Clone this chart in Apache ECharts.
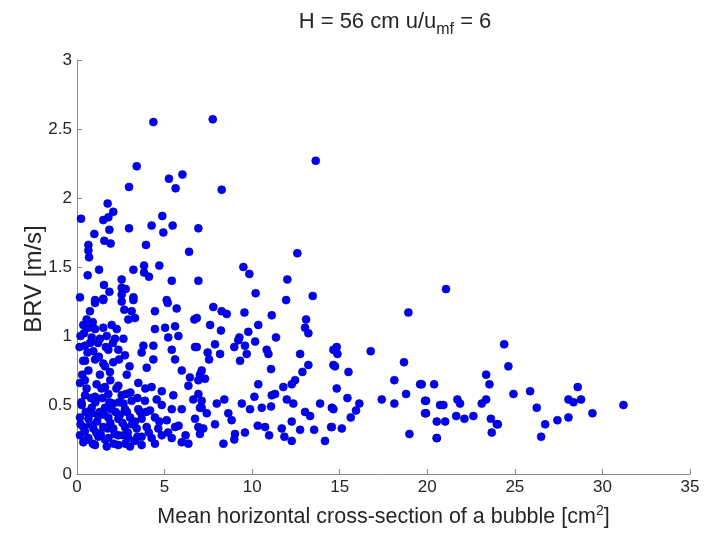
<!DOCTYPE html>
<html>
<head>
<meta charset="utf-8">
<script src="https://cdn.jsdelivr.net/npm/echarts@6/dist/echarts.min.js"></script>
<style>html,body{margin:0;padding:0;background:#fff;}#c{width:704px;height:535px;}</style>
</head>
<body>
<div id="c"></div>
<script>
// Mean horizontal cross-section of a bubble [cm^2]
var crossSection = [
4.36,7.75,3.41,5.25,6.02,5.63,2.97,8.26,13.63,1.75,2.07,1.79,1.50,0.23,1.85,2.97,4.26,4.87,5.46,4.93,
6.93,0.99,0.65,0.65,1.56,1.92,3.94,6.40,0.69,1.26,0.61,3.22,3.83,3.83,4.11,4.70,5.41,6.93,1.54,1.85,
2.55,2.55,2.78,2.55,3.22,0.17,1.03,1.50,5.12,12.58,9.50,9.84,12.01,10.20,11.94,13.46,21.07,18.92,
0.74,1.03,1.50,2.55,2.70,3.12,3.22,2.93,3.31,4.45,5.18,5.69,6.70,0.36,0.65,1.03,1.50,1.98,2.27,0.84,
1.31,2.17,2.65,4.45,5.03,5.60,5.21,5.79,0.46,0.93,1.79,2.36,3.79,4.36,3.69,5.41,6.74,0.46,1.03,1.50,
2.07,2.74,4.36,5.60,3.98,0.65,1.31,1.88,2.84,5.98,6.45,7.02,0.17,1.12,1.60,2.36,3.50,4.26,4.84,5.50,
6.36,0.46,1.03,1.79,2.55,3.12,3.88,4.55,6.64,0.27,0.84,1.60,2.07,2.74,3.50,4.17,4.84,5.41,5.98,7.02,
0.17,0.65,1.22,1.79,2.36,3.03,3.69,4.45,5.12,6.74,0.36,0.93,1.50,2.07,2.74,3.41,3.98,4.64,5.60,7.21,
0.17,0.65,1.22,1.79,2.36,2.93,3.69,4.26,4.84,5.41,5.98,6.36,1.03,1.70,2.36,3.03,3.69,4.45,0.36,
1.30,2.20,1.90,2.60,1.10,2.90,3.30,0.50,0.80,2.40,1.60,2.10,3.30,0.90,2.80,1.40,0.30,0.60,1.20,0.40,
0.90,1.70,2.40,3.00,1.90,
7.78,8.26,8.55,9.56,11.12,6.84,7.60,8.22,10.35,9.78,13.08,13.02,13.21,11.36,9.27,6.84,7.46,7.88,8.17,7.54,
8.98,9.21,9.59,10.17,9.69,9.31,10.83,10.93,12.74,13.21,14.64,14.64,11.08,7.12,7.31,6.93,12.87,12.45,10.35,11.78,
12.26,11.31,11.12,10.13,6.93,7.12,7.98,8.41,9.41,9.88,10.55,11.08,11.98,12.35,13.02,13.31,13.88,14.55,7.12,7.41,
7.88,8.64,8.83,12.26,6.93,7.02,10.32,10.74,10.97,11.69,11.84,12.26,12.74,13.54,14.51,14.16,9.02,8.98,9.59,8.36,
14.83,14.87,16.77,14.73,15.50,18.67,14.83,18.12,19.59,20.39,15.44,16.12,15.93,15.63,17.40,18.12,18.79,14.64,14.55,15.12,
19.93,19.93,20.73,20.92,20.54,21.02,21.72,21.87,21.65,22.12,22.63,18.98,20.54,23.36,23.55,23.36,23.11,23.63,23.97,23.68,
24.39,24.63,19.68,19.87,19.87,20.54,24.92,25.87,26.25,26.73,26.50,27.43,28.06,28.06,28.35,28.59,28.78,29.43,31.20,24.03,
0.45,0.75,1.15,1.35,1.55,1.75,1.95,2.15,2.45,2.65,2.85,3.15,3.45,3.60,0.25,0.55,0.85,1.05,1.45,1.85,
2.25,2.65,3.05,3.45,0.20,0.35,0.75,0.55,0.20,0.45,1.25,1.60,2.05,3.90,4.10,4.70,5.20,5.80,6.20,3.95,
1.65,0.15,0.60,2.00,2.75
];
// Bubble rise velocity BRV [m/s]
var brv = [
2.55,2.57,2.23,2.14,2.17,2.07,2.08,2.06,2.27,1.96,1.90,1.86,1.84,1.85,1.77,1.78,1.80,1.87,1.80,1.75,
1.78,1.74,1.66,1.62,1.69,1.67,1.66,1.61,1.57,1.48,1.44,1.48,1.51,1.46,1.43,1.51,1.40,1.40,1.37,1.32,
1.41,1.35,1.34,1.30,1.28,1.28,1.26,1.27,1.26,1.60,1.50,1.45,1.41,1.31,1.26,1.29,1.34,1.17,
1.18,1.24,1.26,1.25,1.19,1.18,1.26,1.12,1.13,1.18,1.24,1.20,1.12,1.08,1.06,1.05,1.06,1.08,1.05,0.99,
0.98,0.98,0.98,1.05,1.06,1.07,0.99,1.00,0.93,0.89,0.90,0.90,0.93,0.93,0.88,0.90,0.92,0.82,0.83,0.80,
0.81,0.86,0.83,0.83,0.77,0.75,0.72,0.74,0.72,0.75,0.70,0.72,0.66,0.65,0.63,0.64,0.66,0.63,0.60,0.57,
0.64,0.57,0.56,0.58,0.57,0.53,0.53,0.54,0.54,0.50,0.48,0.48,0.51,0.47,0.47,0.46,0.50,0.47,0.47,0.48,
0.41,0.40,0.42,0.41,0.40,0.41,0.40,0.41,0.39,0.40,0.34,0.33,0.34,0.33,0.34,0.33,0.34,0.33,0.34,0.33,
0.28,0.26,0.27,0.26,0.28,0.26,0.27,0.26,0.28,0.26,0.23,0.22,0.21,0.20,0.21,0.20,0.21,0.22,0.23,
0.45,0.45,0.37,0.37,0.30,0.30,0.38,0.45,0.55,0.52,0.25,0.22,0.24,0.22,0.58,0.62,0.72,0.88,0.95,1.02,
1.10,1.00,0.83,0.78,0.68,
1.21,1.18,1.16,1.17,1.15,1.13,1.08,1.04,1.08,1.03,1.12,1.06,1.02,0.99,0.99,0.92,0.88,0.94,0.87,0.83,
0.92,0.97,0.93,0.96,0.87,0.82,0.90,0.87,0.87,0.79,0.90,0.79,0.76,0.75,0.69,0.68,0.74,0.68,0.65,0.63,
0.65,0.58,0.57,0.56,0.58,0.53,0.51,0.54,0.51,0.47,0.48,0.49,0.54,0.51,0.45,0.42,0.51,0.48,0.48,0.44,
0.36,0.44,0.39,0.38,0.34,0.29,0.35,0.34,0.28,0.33,0.27,0.24,0.32,0.32,0.34,0.24,0.29,0.25,0.30,0.22,
0.92,0.87,0.89,0.78,0.74,0.81,0.62,0.68,0.65,0.65,0.55,0.51,0.46,0.41,0.54,0.51,0.58,0.47,0.34,0.33,
0.53,0.44,0.50,0.50,0.38,0.38,0.54,0.51,0.42,0.40,0.42,0.29,0.26,0.72,0.65,0.54,0.51,0.40,0.36,0.30,
0.94,0.78,0.65,0.53,0.44,0.26,0.58,0.60,0.48,0.36,0.27,0.39,0.41,0.54,0.52,0.63,0.54,0.44,0.50,0.36,
0.31,0.36,0.38,0.29,0.43,0.33,0.47,0.29,0.43,0.28,0.45,0.36,0.27,0.45,0.52,0.62,0.44,0.52,0.55,0.52,
0.62,0.51,0.59,0.55,0.36,0.82,0.95,1.12,1.00,0.68,0.85,0.78,0.95,0.62,0.30,0.38,0.30,0.35,0.28,0.45,
0.92,0.92,0.25,0.33,0.22
];
var xTicks = [0,5,10,15,20,25,30,35];
var yTicks = ['0','0.5','1','1.5','2','2.5','3'];

var points = crossSection.map(function(x,i){ return [x, brv[i]]; });

var chart = echarts.init(document.getElementById('c'));
var font = 'Liberation Sans, Arial, sans-serif';
var txt = '#262626';
chart.setOption({
  backgroundColor: '#ffffff',
  animation: false,
  title: {
    text: '{a|H = 56 cm u/u}{s|mf}{a| = 6}',
    left: 390, top: 3, textAlign: 'center',
    textStyle: {
      fontWeight: 'normal',
      rich: {
        a: {fontFamily: font, fontSize: 22, fontWeight: 'normal', color: txt, lineHeight: 28},
        s: {fontFamily: font, fontSize: 16, fontWeight: 'normal', color: txt, lineHeight: 28, padding: [16,0,0,0]}
      }
    }
  },
  grid: {left: 77, right: 14, top: 60, bottom: 60, containLabel: false},
  xAxis: {
    type: 'value', min: 0, max: 35, interval: 5,
    name: '{a|Mean horizontal cross-section of a bubble [cm}{p|2}{a|]}',
    nameLocation: 'middle', nameGap: 30,
    nameTextStyle: {
      rich: {
        a: {fontFamily: font, fontSize: 21.5, color: txt, lineHeight: 26},
        p: {fontFamily: font, fontSize: 14, color: txt, lineHeight: 26, padding: [0,0,12,0]}
      }
    },
    axisLine: {show: true, onZero: false, lineStyle: {color: '#8a8a8a', width: 1}},
    axisTick: {show: true, inside: true, length: 5, lineStyle: {color: '#8a8a8a'}},
    axisLabel: {fontFamily: font, fontSize: 17, color: txt, margin: 5,
      formatter: function(v){ return xTicks.indexOf(v) >= 0 ? String(v) : ''; }},
    splitLine: {show: false}
  },
  yAxis: {
    type: 'value', min: 0, max: 3, interval: 0.5,
    name: 'BRV [m/s]', nameLocation: 'middle', nameGap: 31, nameMoveOverlap: false,
    nameTextStyle: {fontFamily: font, fontSize: 24, color: txt, padding: [0, 24, 0, 0]},
    axisLine: {show: true, onZero: false, lineStyle: {color: '#8a8a8a', width: 1}},
    axisTick: {show: true, inside: true, length: 5, lineStyle: {color: '#8a8a8a'}},
    axisLabel: {fontFamily: font, fontSize: 17, color: txt, margin: 5,
      formatter: function(v){ var s = String(v); return yTicks.indexOf(s) >= 0 ? s : ''; }},
    splitLine: {show: false}
  },
  series: [{
    type: 'scatter',
    data: points,
    symbol: 'circle',
    symbolSize: 8,
    itemStyle: {color: '#0000ff', opacity: 1, borderColor: '#00008b', borderWidth: 0.6}
  }]
});
</script>
</body>
</html>
